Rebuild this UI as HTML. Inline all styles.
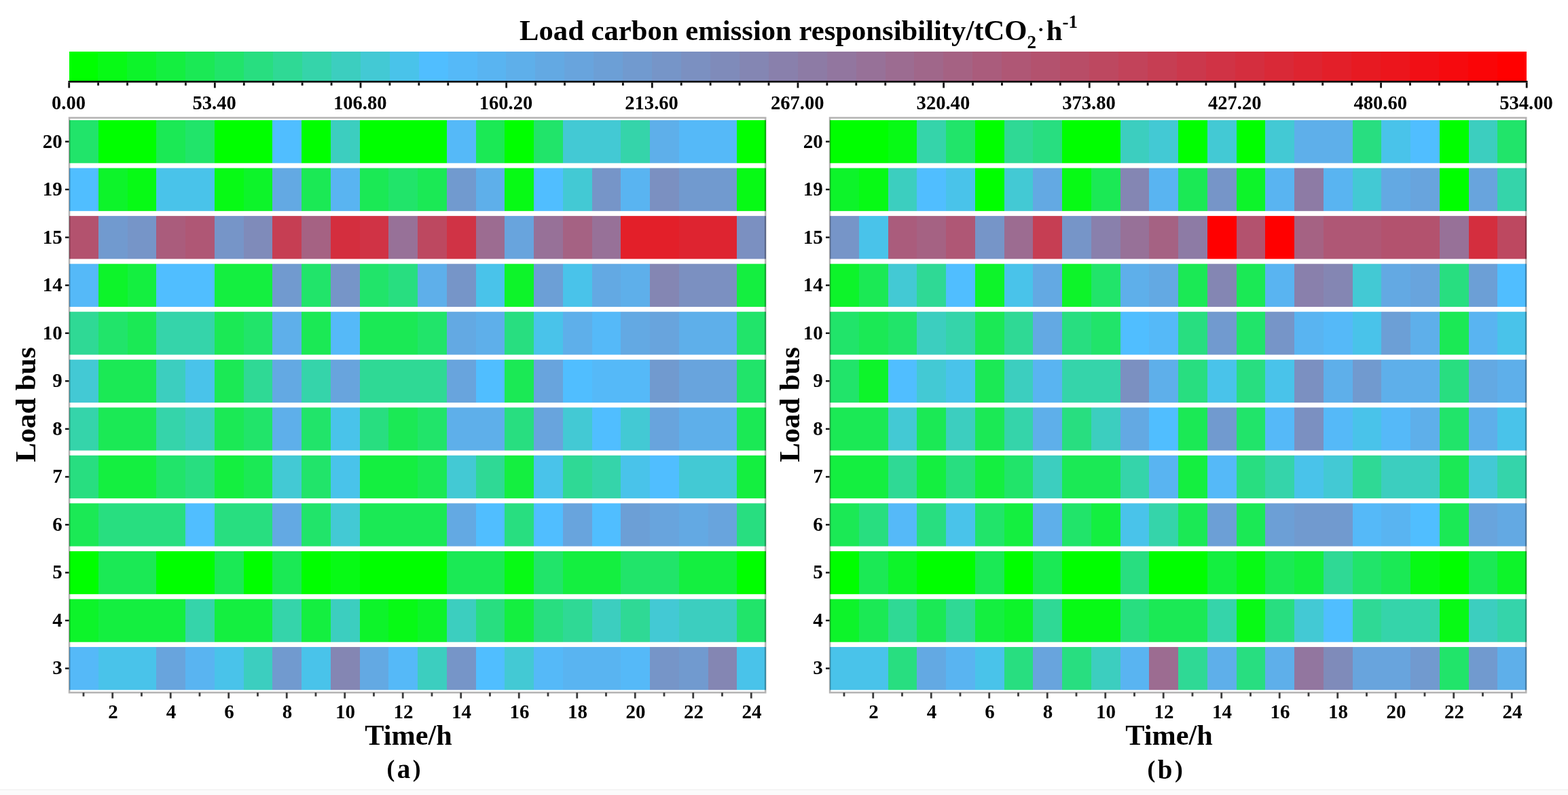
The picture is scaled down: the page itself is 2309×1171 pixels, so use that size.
<!DOCTYPE html>
<html lang="en"><head><meta charset="utf-8"><title>Load carbon emission responsibility</title>
<style>html,body{margin:0;padding:0;background:#fff}body{width:2309px;height:1171px;overflow:hidden}svg{display:block}text{font-family:"Liberation Serif","DejaVu Serif",serif;font-weight:bold;fill:#000}.x{font-size:29px;text-anchor:middle}.y{font-size:29px;text-anchor:end}.h{font-size:42.7px;text-anchor:middle}.c{font-size:28.6px;text-anchor:middle}</style></head><body>
<svg width="2309" height="1171" viewBox="0 0 2309 1171">
<rect width="2309" height="1171" fill="#fff"/>
<rect x="0" y="1162.5" width="2309" height="9" fill="#fbfbfb"/><rect x="0" y="1162.7" width="2309" height="1.2" fill="#f0f0f0"/>
<text x="765" y="58.5" style="font-size:42.7px">Load carbon emission responsibility/tCO<tspan dy="12.8" style="font-size:27px">2</tspan><tspan dy="-18.1" dx="1.6" style="font-size:30px">·</tspan><tspan dy="5.3" dx="3">h</tspan><tspan dy="-17.7" style="font-size:27px">-1</tspan></text>
<g shape-rendering="crispEdges">
<rect x="101.50" y="75.5" width="43.43" height="44.0" fill="#00ff00"/>
<rect x="144.43" y="75.5" width="43.43" height="44.0" fill="#07fa15"/>
<rect x="187.36" y="75.5" width="43.43" height="44.0" fill="#0df42a"/>
<rect x="230.29" y="75.5" width="43.43" height="44.0" fill="#14ef40"/>
<rect x="273.22" y="75.5" width="43.43" height="44.0" fill="#1be955"/>
<rect x="316.15" y="75.5" width="43.43" height="44.0" fill="#21e46a"/>
<rect x="359.08" y="75.5" width="43.43" height="44.0" fill="#28de80"/>
<rect x="402.01" y="75.5" width="43.43" height="44.0" fill="#2fd995"/>
<rect x="444.94" y="75.5" width="43.43" height="44.0" fill="#35d4aa"/>
<rect x="487.87" y="75.5" width="43.43" height="44.0" fill="#3ccebf"/>
<rect x="530.80" y="75.5" width="43.43" height="44.0" fill="#43c9d4"/>
<rect x="573.73" y="75.5" width="43.43" height="44.0" fill="#49c3ea"/>
<rect x="616.66" y="75.5" width="43.43" height="44.0" fill="#50beff"/>
<rect x="659.59" y="75.5" width="43.43" height="44.0" fill="#55b9f8"/>
<rect x="702.52" y="75.5" width="43.43" height="44.0" fill="#59b4f1"/>
<rect x="745.45" y="75.5" width="43.43" height="44.0" fill="#5eafea"/>
<rect x="788.38" y="75.5" width="43.43" height="44.0" fill="#63a9e3"/>
<rect x="831.31" y="75.5" width="43.43" height="44.0" fill="#68a4dd"/>
<rect x="874.24" y="75.5" width="43.43" height="44.0" fill="#6c9fd6"/>
<rect x="917.17" y="75.5" width="43.43" height="44.0" fill="#719acf"/>
<rect x="960.10" y="75.5" width="43.43" height="44.0" fill="#7695c8"/>
<rect x="1003.03" y="75.5" width="43.43" height="44.0" fill="#7b90c1"/>
<rect x="1045.96" y="75.5" width="43.43" height="44.0" fill="#7f8bba"/>
<rect x="1088.89" y="75.5" width="43.43" height="44.0" fill="#8486b3"/>
<rect x="1131.82" y="75.5" width="43.43" height="44.0" fill="#8980ac"/>
<rect x="1174.75" y="75.5" width="43.43" height="44.0" fill="#8d7ba5"/>
<rect x="1217.68" y="75.5" width="43.43" height="44.0" fill="#92769f"/>
<rect x="1260.61" y="75.5" width="43.43" height="44.0" fill="#977198"/>
<rect x="1303.54" y="75.5" width="43.43" height="44.0" fill="#9c6c91"/>
<rect x="1346.47" y="75.5" width="43.43" height="44.0" fill="#a0678a"/>
<rect x="1389.40" y="75.5" width="43.43" height="44.0" fill="#a56283"/>
<rect x="1432.33" y="75.5" width="43.43" height="44.0" fill="#aa5c7c"/>
<rect x="1475.26" y="75.5" width="43.43" height="44.0" fill="#af5775"/>
<rect x="1518.19" y="75.5" width="43.43" height="44.0" fill="#b3526e"/>
<rect x="1561.12" y="75.5" width="43.43" height="44.0" fill="#b84d67"/>
<rect x="1604.05" y="75.5" width="43.43" height="44.0" fill="#bd4860"/>
<rect x="1646.98" y="75.5" width="43.43" height="44.0" fill="#c2435a"/>
<rect x="1689.91" y="75.5" width="43.43" height="44.0" fill="#c63e53"/>
<rect x="1732.84" y="75.5" width="43.43" height="44.0" fill="#cb384c"/>
<rect x="1775.77" y="75.5" width="43.43" height="44.0" fill="#d03345"/>
<rect x="1818.70" y="75.5" width="43.43" height="44.0" fill="#d42e3e"/>
<rect x="1861.63" y="75.5" width="43.43" height="44.0" fill="#d92937"/>
<rect x="1904.56" y="75.5" width="43.43" height="44.0" fill="#de2430"/>
<rect x="1947.49" y="75.5" width="43.43" height="44.0" fill="#e31f29"/>
<rect x="1990.42" y="75.5" width="43.43" height="44.0" fill="#e71a22"/>
<rect x="2033.35" y="75.5" width="43.43" height="44.0" fill="#ec151c"/>
<rect x="2076.28" y="75.5" width="43.43" height="44.0" fill="#f10f15"/>
<rect x="2119.21" y="75.5" width="43.43" height="44.0" fill="#f60a0e"/>
<rect x="2162.14" y="75.5" width="43.43" height="44.0" fill="#fa0507"/>
<rect x="2205.07" y="75.5" width="42.93" height="44.0" fill="#ff0000"/>
</g>
<rect x="100.5" y="119.0" width="2149.0" height="2.6" fill="#000"/>
<rect x="100.30" y="121.5" width="2.8" height="8.0" fill="#111"/>
<rect x="143.23" y="121.5" width="2.8" height="4.5" fill="#111"/>
<rect x="186.16" y="121.5" width="2.8" height="4.5" fill="#111"/>
<rect x="229.09" y="121.5" width="2.8" height="4.5" fill="#111"/>
<rect x="272.02" y="121.5" width="2.8" height="4.5" fill="#111"/>
<rect x="314.95" y="121.5" width="2.8" height="8.0" fill="#111"/>
<rect x="357.88" y="121.5" width="2.8" height="4.5" fill="#111"/>
<rect x="400.81" y="121.5" width="2.8" height="4.5" fill="#111"/>
<rect x="443.74" y="121.5" width="2.8" height="4.5" fill="#111"/>
<rect x="486.67" y="121.5" width="2.8" height="4.5" fill="#111"/>
<rect x="529.60" y="121.5" width="2.8" height="8.0" fill="#111"/>
<rect x="572.53" y="121.5" width="2.8" height="4.5" fill="#111"/>
<rect x="615.46" y="121.5" width="2.8" height="4.5" fill="#111"/>
<rect x="658.39" y="121.5" width="2.8" height="4.5" fill="#111"/>
<rect x="701.32" y="121.5" width="2.8" height="4.5" fill="#111"/>
<rect x="744.25" y="121.5" width="2.8" height="8.0" fill="#111"/>
<rect x="787.18" y="121.5" width="2.8" height="4.5" fill="#111"/>
<rect x="830.11" y="121.5" width="2.8" height="4.5" fill="#111"/>
<rect x="873.04" y="121.5" width="2.8" height="4.5" fill="#111"/>
<rect x="915.97" y="121.5" width="2.8" height="4.5" fill="#111"/>
<rect x="958.90" y="121.5" width="2.8" height="8.0" fill="#111"/>
<rect x="1001.83" y="121.5" width="2.8" height="4.5" fill="#111"/>
<rect x="1044.76" y="121.5" width="2.8" height="4.5" fill="#111"/>
<rect x="1087.69" y="121.5" width="2.8" height="4.5" fill="#111"/>
<rect x="1130.62" y="121.5" width="2.8" height="4.5" fill="#111"/>
<rect x="1173.55" y="121.5" width="2.8" height="8.0" fill="#111"/>
<rect x="1216.48" y="121.5" width="2.8" height="4.5" fill="#111"/>
<rect x="1259.41" y="121.5" width="2.8" height="4.5" fill="#111"/>
<rect x="1302.34" y="121.5" width="2.8" height="4.5" fill="#111"/>
<rect x="1345.27" y="121.5" width="2.8" height="4.5" fill="#111"/>
<rect x="1388.20" y="121.5" width="2.8" height="8.0" fill="#111"/>
<rect x="1431.13" y="121.5" width="2.8" height="4.5" fill="#111"/>
<rect x="1474.06" y="121.5" width="2.8" height="4.5" fill="#111"/>
<rect x="1516.99" y="121.5" width="2.8" height="4.5" fill="#111"/>
<rect x="1559.92" y="121.5" width="2.8" height="4.5" fill="#111"/>
<rect x="1602.85" y="121.5" width="2.8" height="8.0" fill="#111"/>
<rect x="1645.78" y="121.5" width="2.8" height="4.5" fill="#111"/>
<rect x="1688.71" y="121.5" width="2.8" height="4.5" fill="#111"/>
<rect x="1731.64" y="121.5" width="2.8" height="4.5" fill="#111"/>
<rect x="1774.57" y="121.5" width="2.8" height="4.5" fill="#111"/>
<rect x="1817.50" y="121.5" width="2.8" height="8.0" fill="#111"/>
<rect x="1860.43" y="121.5" width="2.8" height="4.5" fill="#111"/>
<rect x="1903.36" y="121.5" width="2.8" height="4.5" fill="#111"/>
<rect x="1946.29" y="121.5" width="2.8" height="4.5" fill="#111"/>
<rect x="1989.22" y="121.5" width="2.8" height="4.5" fill="#111"/>
<rect x="2032.15" y="121.5" width="2.8" height="8.0" fill="#111"/>
<rect x="2075.08" y="121.5" width="2.8" height="4.5" fill="#111"/>
<rect x="2118.01" y="121.5" width="2.8" height="4.5" fill="#111"/>
<rect x="2160.94" y="121.5" width="2.8" height="4.5" fill="#111"/>
<rect x="2203.87" y="121.5" width="2.8" height="4.5" fill="#111"/>
<rect x="2246.80" y="121.5" width="2.8" height="8.0" fill="#111"/>
<text class="c" x="101.0" y="160.9">0.00</text>
<text class="c" x="315.6" y="160.9">53.40</text>
<text class="c" x="530.3" y="160.9">106.80</text>
<text class="c" x="745.0" y="160.9">160.20</text>
<text class="c" x="959.6" y="160.9">213.60</text>
<text class="c" x="1174.2" y="160.9">267.00</text>
<text class="c" x="1388.9" y="160.9">320.40</text>
<text class="c" x="1603.5" y="160.9">373.80</text>
<text class="c" x="1818.2" y="160.9">427.20</text>
<text class="c" x="2032.8" y="160.9">480.60</text>
<text class="c" x="2247.5" y="160.9">534.00</text>
<g shape-rendering="crispEdges">
<rect x="102.00" y="172.90" width="43.25" height="71.54" fill="#21e46a"/>
<rect x="144.75" y="172.90" width="86.00" height="71.54" fill="#00ff00"/>
<rect x="230.25" y="172.90" width="43.25" height="71.54" fill="#1be955"/>
<rect x="273.00" y="172.90" width="43.25" height="71.54" fill="#21e46a"/>
<rect x="315.75" y="172.90" width="86.00" height="71.54" fill="#00ff00"/>
<rect x="401.25" y="172.90" width="43.25" height="71.54" fill="#50beff"/>
<rect x="444.00" y="172.90" width="43.25" height="71.54" fill="#00ff00"/>
<rect x="486.75" y="172.90" width="43.25" height="71.54" fill="#3ccebf"/>
<rect x="529.50" y="172.90" width="128.75" height="71.54" fill="#00ff00"/>
<rect x="657.75" y="172.90" width="43.25" height="71.54" fill="#55b9f8"/>
<rect x="700.50" y="172.90" width="43.25" height="71.54" fill="#1be955"/>
<rect x="743.25" y="172.90" width="43.25" height="71.54" fill="#00ff00"/>
<rect x="786.00" y="172.90" width="43.25" height="71.54" fill="#21e46a"/>
<rect x="828.75" y="172.90" width="86.00" height="71.54" fill="#43c9d4"/>
<rect x="914.25" y="172.90" width="43.25" height="71.54" fill="#35d4aa"/>
<rect x="957.00" y="172.90" width="43.25" height="71.54" fill="#5eafea"/>
<rect x="999.75" y="172.90" width="86.00" height="71.54" fill="#55b9f8"/>
<rect x="1085.25" y="172.90" width="42.75" height="71.54" fill="#00ff00"/>
<rect x="102.00" y="243.44" width="43.25" height="71.54" fill="#50beff"/>
<rect x="144.75" y="243.44" width="43.25" height="71.54" fill="#0df42a"/>
<rect x="187.50" y="243.44" width="43.25" height="71.54" fill="#07fa15"/>
<rect x="230.25" y="243.44" width="86.00" height="71.54" fill="#49c3ea"/>
<rect x="315.75" y="243.44" width="43.25" height="71.54" fill="#07fa15"/>
<rect x="358.50" y="243.44" width="43.25" height="71.54" fill="#0df42a"/>
<rect x="401.25" y="243.44" width="43.25" height="71.54" fill="#63a9e3"/>
<rect x="444.00" y="243.44" width="43.25" height="71.54" fill="#1be955"/>
<rect x="486.75" y="243.44" width="43.25" height="71.54" fill="#59b4f1"/>
<rect x="529.50" y="243.44" width="43.25" height="71.54" fill="#1be955"/>
<rect x="572.25" y="243.44" width="43.25" height="71.54" fill="#21e46a"/>
<rect x="615.00" y="243.44" width="43.25" height="71.54" fill="#1be955"/>
<rect x="657.75" y="243.44" width="43.25" height="71.54" fill="#719acf"/>
<rect x="700.50" y="243.44" width="43.25" height="71.54" fill="#5eafea"/>
<rect x="743.25" y="243.44" width="43.25" height="71.54" fill="#07fa15"/>
<rect x="786.00" y="243.44" width="43.25" height="71.54" fill="#50beff"/>
<rect x="828.75" y="243.44" width="43.25" height="71.54" fill="#43c9d4"/>
<rect x="871.50" y="243.44" width="43.25" height="71.54" fill="#7695c8"/>
<rect x="914.25" y="243.44" width="43.25" height="71.54" fill="#59b4f1"/>
<rect x="957.00" y="243.44" width="43.25" height="71.54" fill="#7b90c1"/>
<rect x="999.75" y="243.44" width="86.00" height="71.54" fill="#719acf"/>
<rect x="1085.25" y="243.44" width="42.75" height="71.54" fill="#07fa15"/>
<rect x="102.00" y="313.98" width="43.25" height="71.54" fill="#b3526e"/>
<rect x="144.75" y="313.98" width="43.25" height="71.54" fill="#719acf"/>
<rect x="187.50" y="313.98" width="43.25" height="71.54" fill="#7695c8"/>
<rect x="230.25" y="313.98" width="43.25" height="71.54" fill="#aa5c7c"/>
<rect x="273.00" y="313.98" width="43.25" height="71.54" fill="#af5775"/>
<rect x="315.75" y="313.98" width="43.25" height="71.54" fill="#7695c8"/>
<rect x="358.50" y="313.98" width="43.25" height="71.54" fill="#7f8bba"/>
<rect x="401.25" y="313.98" width="43.25" height="71.54" fill="#c63e53"/>
<rect x="444.00" y="313.98" width="43.25" height="71.54" fill="#a56283"/>
<rect x="486.75" y="313.98" width="43.25" height="71.54" fill="#d42e3e"/>
<rect x="529.50" y="313.98" width="43.25" height="71.54" fill="#d03345"/>
<rect x="572.25" y="313.98" width="43.25" height="71.54" fill="#977198"/>
<rect x="615.00" y="313.98" width="43.25" height="71.54" fill="#bd4860"/>
<rect x="657.75" y="313.98" width="43.25" height="71.54" fill="#d03345"/>
<rect x="700.50" y="313.98" width="43.25" height="71.54" fill="#9c6c91"/>
<rect x="743.25" y="313.98" width="43.25" height="71.54" fill="#68a4dd"/>
<rect x="786.00" y="313.98" width="43.25" height="71.54" fill="#977198"/>
<rect x="828.75" y="313.98" width="43.25" height="71.54" fill="#a56283"/>
<rect x="871.50" y="313.98" width="43.25" height="71.54" fill="#977198"/>
<rect x="914.25" y="313.98" width="86.00" height="71.54" fill="#e31f29"/>
<rect x="999.75" y="313.98" width="86.00" height="71.54" fill="#de2430"/>
<rect x="1085.25" y="313.98" width="42.75" height="71.54" fill="#7b90c1"/>
<rect x="102.00" y="384.52" width="43.25" height="71.54" fill="#55b9f8"/>
<rect x="144.75" y="384.52" width="43.25" height="71.54" fill="#0df42a"/>
<rect x="187.50" y="384.52" width="43.25" height="71.54" fill="#14ef40"/>
<rect x="230.25" y="384.52" width="86.00" height="71.54" fill="#50beff"/>
<rect x="315.75" y="384.52" width="86.00" height="71.54" fill="#14ef40"/>
<rect x="401.25" y="384.52" width="43.25" height="71.54" fill="#719acf"/>
<rect x="444.00" y="384.52" width="43.25" height="71.54" fill="#21e46a"/>
<rect x="486.75" y="384.52" width="43.25" height="71.54" fill="#7695c8"/>
<rect x="529.50" y="384.52" width="43.25" height="71.54" fill="#21e46a"/>
<rect x="572.25" y="384.52" width="43.25" height="71.54" fill="#28de80"/>
<rect x="615.00" y="384.52" width="43.25" height="71.54" fill="#5eafea"/>
<rect x="657.75" y="384.52" width="43.25" height="71.54" fill="#7695c8"/>
<rect x="700.50" y="384.52" width="43.25" height="71.54" fill="#49c3ea"/>
<rect x="743.25" y="384.52" width="43.25" height="71.54" fill="#0df42a"/>
<rect x="786.00" y="384.52" width="43.25" height="71.54" fill="#6c9fd6"/>
<rect x="828.75" y="384.52" width="43.25" height="71.54" fill="#49c3ea"/>
<rect x="871.50" y="384.52" width="43.25" height="71.54" fill="#63a9e3"/>
<rect x="914.25" y="384.52" width="43.25" height="71.54" fill="#5eafea"/>
<rect x="957.00" y="384.52" width="43.25" height="71.54" fill="#8486b3"/>
<rect x="999.75" y="384.52" width="86.00" height="71.54" fill="#7b90c1"/>
<rect x="1085.25" y="384.52" width="42.75" height="71.54" fill="#14ef40"/>
<rect x="102.00" y="455.07" width="43.25" height="71.54" fill="#2fd995"/>
<rect x="144.75" y="455.07" width="43.25" height="71.54" fill="#21e46a"/>
<rect x="187.50" y="455.07" width="43.25" height="71.54" fill="#1be955"/>
<rect x="230.25" y="455.07" width="86.00" height="71.54" fill="#35d4aa"/>
<rect x="315.75" y="455.07" width="43.25" height="71.54" fill="#1be955"/>
<rect x="358.50" y="455.07" width="43.25" height="71.54" fill="#21e46a"/>
<rect x="401.25" y="455.07" width="43.25" height="71.54" fill="#5eafea"/>
<rect x="444.00" y="455.07" width="43.25" height="71.54" fill="#1be955"/>
<rect x="486.75" y="455.07" width="43.25" height="71.54" fill="#55b9f8"/>
<rect x="529.50" y="455.07" width="86.00" height="71.54" fill="#1be955"/>
<rect x="615.00" y="455.07" width="43.25" height="71.54" fill="#21e46a"/>
<rect x="657.75" y="455.07" width="43.25" height="71.54" fill="#63a9e3"/>
<rect x="700.50" y="455.07" width="43.25" height="71.54" fill="#5eafea"/>
<rect x="743.25" y="455.07" width="43.25" height="71.54" fill="#28de80"/>
<rect x="786.00" y="455.07" width="43.25" height="71.54" fill="#49c3ea"/>
<rect x="828.75" y="455.07" width="43.25" height="71.54" fill="#5eafea"/>
<rect x="871.50" y="455.07" width="43.25" height="71.54" fill="#55b9f8"/>
<rect x="914.25" y="455.07" width="43.25" height="71.54" fill="#63a9e3"/>
<rect x="957.00" y="455.07" width="43.25" height="71.54" fill="#68a4dd"/>
<rect x="999.75" y="455.07" width="86.00" height="71.54" fill="#5eafea"/>
<rect x="1085.25" y="455.07" width="42.75" height="71.54" fill="#21e46a"/>
<rect x="102.00" y="525.61" width="43.25" height="71.54" fill="#43c9d4"/>
<rect x="144.75" y="525.61" width="86.00" height="71.54" fill="#1be955"/>
<rect x="230.25" y="525.61" width="43.25" height="71.54" fill="#3ccebf"/>
<rect x="273.00" y="525.61" width="43.25" height="71.54" fill="#49c3ea"/>
<rect x="315.75" y="525.61" width="43.25" height="71.54" fill="#1be955"/>
<rect x="358.50" y="525.61" width="43.25" height="71.54" fill="#2fd995"/>
<rect x="401.25" y="525.61" width="43.25" height="71.54" fill="#63a9e3"/>
<rect x="444.00" y="525.61" width="43.25" height="71.54" fill="#35d4aa"/>
<rect x="486.75" y="525.61" width="43.25" height="71.54" fill="#68a4dd"/>
<rect x="529.50" y="525.61" width="128.75" height="71.54" fill="#2fd995"/>
<rect x="657.75" y="525.61" width="43.25" height="71.54" fill="#68a4dd"/>
<rect x="700.50" y="525.61" width="43.25" height="71.54" fill="#50beff"/>
<rect x="743.25" y="525.61" width="43.25" height="71.54" fill="#1be955"/>
<rect x="786.00" y="525.61" width="43.25" height="71.54" fill="#68a4dd"/>
<rect x="828.75" y="525.61" width="43.25" height="71.54" fill="#50beff"/>
<rect x="871.50" y="525.61" width="86.00" height="71.54" fill="#55b9f8"/>
<rect x="957.00" y="525.61" width="43.25" height="71.54" fill="#719acf"/>
<rect x="999.75" y="525.61" width="86.00" height="71.54" fill="#68a4dd"/>
<rect x="1085.25" y="525.61" width="42.75" height="71.54" fill="#21e46a"/>
<rect x="102.00" y="596.15" width="43.25" height="71.54" fill="#35d4aa"/>
<rect x="144.75" y="596.15" width="86.00" height="71.54" fill="#1be955"/>
<rect x="230.25" y="596.15" width="43.25" height="71.54" fill="#35d4aa"/>
<rect x="273.00" y="596.15" width="43.25" height="71.54" fill="#3ccebf"/>
<rect x="315.75" y="596.15" width="43.25" height="71.54" fill="#1be955"/>
<rect x="358.50" y="596.15" width="43.25" height="71.54" fill="#21e46a"/>
<rect x="401.25" y="596.15" width="43.25" height="71.54" fill="#5eafea"/>
<rect x="444.00" y="596.15" width="43.25" height="71.54" fill="#21e46a"/>
<rect x="486.75" y="596.15" width="43.25" height="71.54" fill="#49c3ea"/>
<rect x="529.50" y="596.15" width="43.25" height="71.54" fill="#28de80"/>
<rect x="572.25" y="596.15" width="43.25" height="71.54" fill="#1be955"/>
<rect x="615.00" y="596.15" width="43.25" height="71.54" fill="#21e46a"/>
<rect x="657.75" y="596.15" width="86.00" height="71.54" fill="#5eafea"/>
<rect x="743.25" y="596.15" width="43.25" height="71.54" fill="#28de80"/>
<rect x="786.00" y="596.15" width="43.25" height="71.54" fill="#68a4dd"/>
<rect x="828.75" y="596.15" width="43.25" height="71.54" fill="#43c9d4"/>
<rect x="871.50" y="596.15" width="43.25" height="71.54" fill="#50beff"/>
<rect x="914.25" y="596.15" width="43.25" height="71.54" fill="#43c9d4"/>
<rect x="957.00" y="596.15" width="43.25" height="71.54" fill="#68a4dd"/>
<rect x="999.75" y="596.15" width="86.00" height="71.54" fill="#5eafea"/>
<rect x="1085.25" y="596.15" width="42.75" height="71.54" fill="#1be955"/>
<rect x="102.00" y="666.69" width="43.25" height="71.54" fill="#28de80"/>
<rect x="144.75" y="666.69" width="86.00" height="71.54" fill="#14ef40"/>
<rect x="230.25" y="666.69" width="43.25" height="71.54" fill="#21e46a"/>
<rect x="273.00" y="666.69" width="43.25" height="71.54" fill="#28de80"/>
<rect x="315.75" y="666.69" width="43.25" height="71.54" fill="#14ef40"/>
<rect x="358.50" y="666.69" width="43.25" height="71.54" fill="#1be955"/>
<rect x="401.25" y="666.69" width="43.25" height="71.54" fill="#43c9d4"/>
<rect x="444.00" y="666.69" width="43.25" height="71.54" fill="#21e46a"/>
<rect x="486.75" y="666.69" width="43.25" height="71.54" fill="#49c3ea"/>
<rect x="529.50" y="666.69" width="86.00" height="71.54" fill="#14ef40"/>
<rect x="615.00" y="666.69" width="43.25" height="71.54" fill="#1be955"/>
<rect x="657.75" y="666.69" width="43.25" height="71.54" fill="#43c9d4"/>
<rect x="700.50" y="666.69" width="43.25" height="71.54" fill="#2fd995"/>
<rect x="743.25" y="666.69" width="43.25" height="71.54" fill="#14ef40"/>
<rect x="786.00" y="666.69" width="43.25" height="71.54" fill="#49c3ea"/>
<rect x="828.75" y="666.69" width="43.25" height="71.54" fill="#2fd995"/>
<rect x="871.50" y="666.69" width="43.25" height="71.54" fill="#35d4aa"/>
<rect x="914.25" y="666.69" width="43.25" height="71.54" fill="#49c3ea"/>
<rect x="957.00" y="666.69" width="43.25" height="71.54" fill="#50beff"/>
<rect x="999.75" y="666.69" width="86.00" height="71.54" fill="#43c9d4"/>
<rect x="1085.25" y="666.69" width="42.75" height="71.54" fill="#14ef40"/>
<rect x="102.00" y="737.23" width="43.25" height="71.54" fill="#1be955"/>
<rect x="144.75" y="737.23" width="128.75" height="71.54" fill="#28de80"/>
<rect x="273.00" y="737.23" width="43.25" height="71.54" fill="#50beff"/>
<rect x="315.75" y="737.23" width="86.00" height="71.54" fill="#28de80"/>
<rect x="401.25" y="737.23" width="43.25" height="71.54" fill="#63a9e3"/>
<rect x="444.00" y="737.23" width="43.25" height="71.54" fill="#21e46a"/>
<rect x="486.75" y="737.23" width="43.25" height="71.54" fill="#43c9d4"/>
<rect x="529.50" y="737.23" width="128.75" height="71.54" fill="#1be955"/>
<rect x="657.75" y="737.23" width="43.25" height="71.54" fill="#63a9e3"/>
<rect x="700.50" y="737.23" width="43.25" height="71.54" fill="#50beff"/>
<rect x="743.25" y="737.23" width="43.25" height="71.54" fill="#28de80"/>
<rect x="786.00" y="737.23" width="43.25" height="71.54" fill="#50beff"/>
<rect x="828.75" y="737.23" width="43.25" height="71.54" fill="#68a4dd"/>
<rect x="871.50" y="737.23" width="43.25" height="71.54" fill="#50beff"/>
<rect x="914.25" y="737.23" width="43.25" height="71.54" fill="#6c9fd6"/>
<rect x="957.00" y="737.23" width="43.25" height="71.54" fill="#68a4dd"/>
<rect x="999.75" y="737.23" width="43.25" height="71.54" fill="#63a9e3"/>
<rect x="1042.50" y="737.23" width="43.25" height="71.54" fill="#68a4dd"/>
<rect x="1085.25" y="737.23" width="42.75" height="71.54" fill="#28de80"/>
<rect x="102.00" y="807.77" width="43.25" height="71.54" fill="#00ff00"/>
<rect x="144.75" y="807.77" width="86.00" height="71.54" fill="#1be955"/>
<rect x="230.25" y="807.77" width="86.00" height="71.54" fill="#00ff00"/>
<rect x="315.75" y="807.77" width="43.25" height="71.54" fill="#1be955"/>
<rect x="358.50" y="807.77" width="43.25" height="71.54" fill="#00ff00"/>
<rect x="401.25" y="807.77" width="43.25" height="71.54" fill="#1be955"/>
<rect x="444.00" y="807.77" width="43.25" height="71.54" fill="#00ff00"/>
<rect x="486.75" y="807.77" width="43.25" height="71.54" fill="#07fa15"/>
<rect x="529.50" y="807.77" width="128.75" height="71.54" fill="#00ff00"/>
<rect x="657.75" y="807.77" width="86.00" height="71.54" fill="#1be955"/>
<rect x="743.25" y="807.77" width="43.25" height="71.54" fill="#07fa15"/>
<rect x="786.00" y="807.77" width="43.25" height="71.54" fill="#21e46a"/>
<rect x="828.75" y="807.77" width="86.00" height="71.54" fill="#14ef40"/>
<rect x="914.25" y="807.77" width="86.00" height="71.54" fill="#21e46a"/>
<rect x="999.75" y="807.77" width="86.00" height="71.54" fill="#14ef40"/>
<rect x="1085.25" y="807.77" width="42.75" height="71.54" fill="#00ff00"/>
<rect x="102.00" y="878.32" width="43.25" height="71.54" fill="#0df42a"/>
<rect x="144.75" y="878.32" width="128.75" height="71.54" fill="#14ef40"/>
<rect x="273.00" y="878.32" width="43.25" height="71.54" fill="#35d4aa"/>
<rect x="315.75" y="878.32" width="86.00" height="71.54" fill="#14ef40"/>
<rect x="401.25" y="878.32" width="43.25" height="71.54" fill="#35d4aa"/>
<rect x="444.00" y="878.32" width="43.25" height="71.54" fill="#14ef40"/>
<rect x="486.75" y="878.32" width="43.25" height="71.54" fill="#3ccebf"/>
<rect x="529.50" y="878.32" width="43.25" height="71.54" fill="#0df42a"/>
<rect x="572.25" y="878.32" width="43.25" height="71.54" fill="#07fa15"/>
<rect x="615.00" y="878.32" width="43.25" height="71.54" fill="#0df42a"/>
<rect x="657.75" y="878.32" width="43.25" height="71.54" fill="#3ccebf"/>
<rect x="700.50" y="878.32" width="43.25" height="71.54" fill="#28de80"/>
<rect x="743.25" y="878.32" width="43.25" height="71.54" fill="#14ef40"/>
<rect x="786.00" y="878.32" width="43.25" height="71.54" fill="#28de80"/>
<rect x="828.75" y="878.32" width="43.25" height="71.54" fill="#2fd995"/>
<rect x="871.50" y="878.32" width="43.25" height="71.54" fill="#3ccebf"/>
<rect x="914.25" y="878.32" width="43.25" height="71.54" fill="#2fd995"/>
<rect x="957.00" y="878.32" width="43.25" height="71.54" fill="#43c9d4"/>
<rect x="999.75" y="878.32" width="86.00" height="71.54" fill="#3ccebf"/>
<rect x="1085.25" y="878.32" width="42.75" height="71.54" fill="#21e46a"/>
<rect x="102.00" y="948.86" width="43.25" height="71.54" fill="#55b9f8"/>
<rect x="144.75" y="948.86" width="86.00" height="71.54" fill="#49c3ea"/>
<rect x="230.25" y="948.86" width="43.25" height="71.54" fill="#68a4dd"/>
<rect x="273.00" y="948.86" width="43.25" height="71.54" fill="#59b4f1"/>
<rect x="315.75" y="948.86" width="43.25" height="71.54" fill="#49c3ea"/>
<rect x="358.50" y="948.86" width="43.25" height="71.54" fill="#3ccebf"/>
<rect x="401.25" y="948.86" width="43.25" height="71.54" fill="#719acf"/>
<rect x="444.00" y="948.86" width="43.25" height="71.54" fill="#49c3ea"/>
<rect x="486.75" y="948.86" width="43.25" height="71.54" fill="#8486b3"/>
<rect x="529.50" y="948.86" width="43.25" height="71.54" fill="#63a9e3"/>
<rect x="572.25" y="948.86" width="43.25" height="71.54" fill="#55b9f8"/>
<rect x="615.00" y="948.86" width="43.25" height="71.54" fill="#3ccebf"/>
<rect x="657.75" y="948.86" width="43.25" height="71.54" fill="#7695c8"/>
<rect x="700.50" y="948.86" width="43.25" height="71.54" fill="#50beff"/>
<rect x="743.25" y="948.86" width="43.25" height="71.54" fill="#43c9d4"/>
<rect x="786.00" y="948.86" width="43.25" height="71.54" fill="#55b9f8"/>
<rect x="828.75" y="948.86" width="86.00" height="71.54" fill="#59b4f1"/>
<rect x="914.25" y="948.86" width="43.25" height="71.54" fill="#55b9f8"/>
<rect x="957.00" y="948.86" width="43.25" height="71.54" fill="#7695c8"/>
<rect x="999.75" y="948.86" width="43.25" height="71.54" fill="#719acf"/>
<rect x="1042.50" y="948.86" width="43.25" height="71.54" fill="#8486b3"/>
<rect x="1085.25" y="948.86" width="42.75" height="71.54" fill="#49c3ea"/>
</g>
<rect x="101.0" y="172.40" width="1028.0" height="4.62" fill="#fff"/>
<rect x="101.0" y="240.32" width="1028.0" height="7.24" fill="#fff"/>
<rect x="101.0" y="310.86" width="1028.0" height="7.24" fill="#fff"/>
<rect x="101.0" y="381.40" width="1028.0" height="7.24" fill="#fff"/>
<rect x="101.0" y="451.95" width="1028.0" height="7.24" fill="#fff"/>
<rect x="101.0" y="522.49" width="1028.0" height="7.24" fill="#fff"/>
<rect x="101.0" y="593.03" width="1028.0" height="7.24" fill="#fff"/>
<rect x="101.0" y="663.57" width="1028.0" height="7.24" fill="#fff"/>
<rect x="101.0" y="734.11" width="1028.0" height="7.24" fill="#fff"/>
<rect x="101.0" y="804.65" width="1028.0" height="7.24" fill="#fff"/>
<rect x="101.0" y="875.20" width="1028.0" height="7.24" fill="#fff"/>
<rect x="101.0" y="945.74" width="1028.0" height="7.24" fill="#fff"/>
<rect x="101.0" y="1016.28" width="1028.0" height="4.62" fill="#fff"/>
<rect x="102.1" y="173.5" width="1025.1" height="846.6" fill="none" stroke="#0a0508" stroke-opacity="0.3" stroke-width="2.6"/>
<rect x="96.0" y="207.37" width="5.6" height="2.4" fill="#111"/>
<text class="y" x="91.7" y="217.5">20</text>
<rect x="96.0" y="277.91" width="5.6" height="2.4" fill="#111"/>
<text class="y" x="91.7" y="288.0">19</text>
<rect x="96.0" y="348.45" width="5.6" height="2.4" fill="#111"/>
<text class="y" x="91.7" y="358.6">15</text>
<rect x="96.0" y="419.00" width="5.6" height="2.4" fill="#111"/>
<text class="y" x="91.7" y="429.1">14</text>
<rect x="96.0" y="489.54" width="5.6" height="2.4" fill="#111"/>
<text class="y" x="91.7" y="499.6">10</text>
<rect x="96.0" y="560.08" width="5.6" height="2.4" fill="#111"/>
<text class="y" x="91.7" y="570.2">9</text>
<rect x="96.0" y="630.62" width="5.6" height="2.4" fill="#111"/>
<text class="y" x="91.7" y="640.7">8</text>
<rect x="96.0" y="701.16" width="5.6" height="2.4" fill="#111"/>
<text class="y" x="91.7" y="711.3">7</text>
<rect x="96.0" y="771.70" width="5.6" height="2.4" fill="#111"/>
<text class="y" x="91.7" y="781.8">6</text>
<rect x="96.0" y="842.25" width="5.6" height="2.4" fill="#111"/>
<text class="y" x="91.7" y="852.3">5</text>
<rect x="96.0" y="912.79" width="5.6" height="2.4" fill="#111"/>
<text class="y" x="91.7" y="922.9">4</text>
<rect x="96.0" y="983.33" width="5.6" height="2.4" fill="#111"/>
<text class="y" x="91.7" y="993.4">3</text>
<rect x="121.58" y="1020.2" width="2.8" height="5.5" fill="#3a3a3a"/>
<rect x="164.32" y="1020.2" width="2.8" height="8.5" fill="#3a3a3a"/>
<text class="x" x="166.6" y="1058">2</text>
<rect x="207.07" y="1020.2" width="2.8" height="5.5" fill="#3a3a3a"/>
<rect x="249.82" y="1020.2" width="2.8" height="8.5" fill="#3a3a3a"/>
<text class="x" x="252.1" y="1058">4</text>
<rect x="292.57" y="1020.2" width="2.8" height="5.5" fill="#3a3a3a"/>
<rect x="335.32" y="1020.2" width="2.8" height="8.5" fill="#3a3a3a"/>
<text class="x" x="337.6" y="1058">6</text>
<rect x="378.07" y="1020.2" width="2.8" height="5.5" fill="#3a3a3a"/>
<rect x="420.82" y="1020.2" width="2.8" height="8.5" fill="#3a3a3a"/>
<text class="x" x="423.1" y="1058">8</text>
<rect x="463.57" y="1020.2" width="2.8" height="5.5" fill="#3a3a3a"/>
<rect x="506.32" y="1020.2" width="2.8" height="8.5" fill="#3a3a3a"/>
<text class="x" x="508.6" y="1058">10</text>
<rect x="549.08" y="1020.2" width="2.8" height="5.5" fill="#3a3a3a"/>
<rect x="591.83" y="1020.2" width="2.8" height="8.5" fill="#3a3a3a"/>
<text class="x" x="594.1" y="1058">12</text>
<rect x="634.58" y="1020.2" width="2.8" height="5.5" fill="#3a3a3a"/>
<rect x="677.33" y="1020.2" width="2.8" height="8.5" fill="#3a3a3a"/>
<text class="x" x="679.6" y="1058">14</text>
<rect x="720.08" y="1020.2" width="2.8" height="5.5" fill="#3a3a3a"/>
<rect x="762.83" y="1020.2" width="2.8" height="8.5" fill="#3a3a3a"/>
<text class="x" x="765.1" y="1058">16</text>
<rect x="805.58" y="1020.2" width="2.8" height="5.5" fill="#3a3a3a"/>
<rect x="848.33" y="1020.2" width="2.8" height="8.5" fill="#3a3a3a"/>
<text class="x" x="850.6" y="1058">18</text>
<rect x="891.08" y="1020.2" width="2.8" height="5.5" fill="#3a3a3a"/>
<rect x="933.83" y="1020.2" width="2.8" height="8.5" fill="#3a3a3a"/>
<text class="x" x="936.1" y="1058">20</text>
<rect x="976.58" y="1020.2" width="2.8" height="5.5" fill="#3a3a3a"/>
<rect x="1019.33" y="1020.2" width="2.8" height="8.5" fill="#3a3a3a"/>
<text class="x" x="1021.6" y="1058">22</text>
<rect x="1062.08" y="1020.2" width="2.8" height="5.5" fill="#3a3a3a"/>
<rect x="1104.83" y="1020.2" width="2.8" height="8.5" fill="#3a3a3a"/>
<text class="x" x="1107.1" y="1058">24</text>
<text class="h" x="601.6" y="1096.7" style="font-size:42.3px">Time/h</text>
<text class="h" x="596.2" y="1146.4" style="font-size:39px;letter-spacing:3.4px"><tspan dy="-2.3" style="font-size:35.5px">(</tspan><tspan dy="2.3">a</tspan><tspan dy="-2.3" style="font-size:35.5px">)</tspan></text>
<text class="h" transform="translate(51.5,596) rotate(-90)">Load bus</text>
<g shape-rendering="crispEdges">
<rect x="1222.00" y="172.90" width="86.00" height="71.54" fill="#00ff00"/>
<rect x="1307.50" y="172.90" width="43.25" height="71.54" fill="#07fa15"/>
<rect x="1350.25" y="172.90" width="43.25" height="71.54" fill="#35d4aa"/>
<rect x="1393.00" y="172.90" width="43.25" height="71.54" fill="#21e46a"/>
<rect x="1435.75" y="172.90" width="43.25" height="71.54" fill="#00ff00"/>
<rect x="1478.50" y="172.90" width="43.25" height="71.54" fill="#2fd995"/>
<rect x="1521.25" y="172.90" width="43.25" height="71.54" fill="#28de80"/>
<rect x="1564.00" y="172.90" width="86.00" height="71.54" fill="#00ff00"/>
<rect x="1649.50" y="172.90" width="43.25" height="71.54" fill="#3ccebf"/>
<rect x="1692.25" y="172.90" width="43.25" height="71.54" fill="#43c9d4"/>
<rect x="1735.00" y="172.90" width="43.25" height="71.54" fill="#00ff00"/>
<rect x="1777.75" y="172.90" width="43.25" height="71.54" fill="#43c9d4"/>
<rect x="1820.50" y="172.90" width="43.25" height="71.54" fill="#00ff00"/>
<rect x="1863.25" y="172.90" width="43.25" height="71.54" fill="#43c9d4"/>
<rect x="1906.00" y="172.90" width="86.00" height="71.54" fill="#5eafea"/>
<rect x="1991.50" y="172.90" width="43.25" height="71.54" fill="#28de80"/>
<rect x="2034.25" y="172.90" width="43.25" height="71.54" fill="#49c3ea"/>
<rect x="2077.00" y="172.90" width="43.25" height="71.54" fill="#50beff"/>
<rect x="2119.75" y="172.90" width="43.25" height="71.54" fill="#00ff00"/>
<rect x="2162.50" y="172.90" width="43.25" height="71.54" fill="#3ccebf"/>
<rect x="2205.25" y="172.90" width="42.75" height="71.54" fill="#21e46a"/>
<rect x="1222.00" y="243.44" width="43.25" height="71.54" fill="#0df42a"/>
<rect x="1264.75" y="243.44" width="43.25" height="71.54" fill="#07fa15"/>
<rect x="1307.50" y="243.44" width="43.25" height="71.54" fill="#3ccebf"/>
<rect x="1350.25" y="243.44" width="43.25" height="71.54" fill="#50beff"/>
<rect x="1393.00" y="243.44" width="43.25" height="71.54" fill="#49c3ea"/>
<rect x="1435.75" y="243.44" width="43.25" height="71.54" fill="#00ff00"/>
<rect x="1478.50" y="243.44" width="43.25" height="71.54" fill="#43c9d4"/>
<rect x="1521.25" y="243.44" width="43.25" height="71.54" fill="#63a9e3"/>
<rect x="1564.00" y="243.44" width="43.25" height="71.54" fill="#07fa15"/>
<rect x="1606.75" y="243.44" width="43.25" height="71.54" fill="#1be955"/>
<rect x="1649.50" y="243.44" width="43.25" height="71.54" fill="#8486b3"/>
<rect x="1692.25" y="243.44" width="43.25" height="71.54" fill="#59b4f1"/>
<rect x="1735.00" y="243.44" width="43.25" height="71.54" fill="#1be955"/>
<rect x="1777.75" y="243.44" width="43.25" height="71.54" fill="#7695c8"/>
<rect x="1820.50" y="243.44" width="43.25" height="71.54" fill="#0df42a"/>
<rect x="1863.25" y="243.44" width="43.25" height="71.54" fill="#59b4f1"/>
<rect x="1906.00" y="243.44" width="43.25" height="71.54" fill="#8d7ba5"/>
<rect x="1948.75" y="243.44" width="43.25" height="71.54" fill="#59b4f1"/>
<rect x="1991.50" y="243.44" width="43.25" height="71.54" fill="#43c9d4"/>
<rect x="2034.25" y="243.44" width="43.25" height="71.54" fill="#63a9e3"/>
<rect x="2077.00" y="243.44" width="43.25" height="71.54" fill="#68a4dd"/>
<rect x="2119.75" y="243.44" width="43.25" height="71.54" fill="#00ff00"/>
<rect x="2162.50" y="243.44" width="43.25" height="71.54" fill="#68a4dd"/>
<rect x="2205.25" y="243.44" width="42.75" height="71.54" fill="#35d4aa"/>
<rect x="1222.00" y="313.98" width="43.25" height="71.54" fill="#7695c8"/>
<rect x="1264.75" y="313.98" width="43.25" height="71.54" fill="#49c3ea"/>
<rect x="1307.50" y="313.98" width="43.25" height="71.54" fill="#aa5c7c"/>
<rect x="1350.25" y="313.98" width="43.25" height="71.54" fill="#a56283"/>
<rect x="1393.00" y="313.98" width="43.25" height="71.54" fill="#af5775"/>
<rect x="1435.75" y="313.98" width="43.25" height="71.54" fill="#7695c8"/>
<rect x="1478.50" y="313.98" width="43.25" height="71.54" fill="#9c6c91"/>
<rect x="1521.25" y="313.98" width="43.25" height="71.54" fill="#c63e53"/>
<rect x="1564.00" y="313.98" width="43.25" height="71.54" fill="#7695c8"/>
<rect x="1606.75" y="313.98" width="43.25" height="71.54" fill="#8980ac"/>
<rect x="1649.50" y="313.98" width="43.25" height="71.54" fill="#977198"/>
<rect x="1692.25" y="313.98" width="43.25" height="71.54" fill="#a56283"/>
<rect x="1735.00" y="313.98" width="43.25" height="71.54" fill="#8d7ba5"/>
<rect x="1777.75" y="313.98" width="43.25" height="71.54" fill="#ff0000"/>
<rect x="1820.50" y="313.98" width="43.25" height="71.54" fill="#b3526e"/>
<rect x="1863.25" y="313.98" width="43.25" height="71.54" fill="#ff0000"/>
<rect x="1906.00" y="313.98" width="43.25" height="71.54" fill="#a56283"/>
<rect x="1948.75" y="313.98" width="86.00" height="71.54" fill="#af5775"/>
<rect x="2034.25" y="313.98" width="86.00" height="71.54" fill="#b3526e"/>
<rect x="2119.75" y="313.98" width="43.25" height="71.54" fill="#977198"/>
<rect x="2162.50" y="313.98" width="43.25" height="71.54" fill="#d42e3e"/>
<rect x="2205.25" y="313.98" width="42.75" height="71.54" fill="#bd4860"/>
<rect x="1222.00" y="384.52" width="43.25" height="71.54" fill="#0df42a"/>
<rect x="1264.75" y="384.52" width="43.25" height="71.54" fill="#1be955"/>
<rect x="1307.50" y="384.52" width="43.25" height="71.54" fill="#43c9d4"/>
<rect x="1350.25" y="384.52" width="43.25" height="71.54" fill="#2fd995"/>
<rect x="1393.00" y="384.52" width="43.25" height="71.54" fill="#50beff"/>
<rect x="1435.75" y="384.52" width="43.25" height="71.54" fill="#0df42a"/>
<rect x="1478.50" y="384.52" width="43.25" height="71.54" fill="#49c3ea"/>
<rect x="1521.25" y="384.52" width="43.25" height="71.54" fill="#63a9e3"/>
<rect x="1564.00" y="384.52" width="43.25" height="71.54" fill="#0df42a"/>
<rect x="1606.75" y="384.52" width="43.25" height="71.54" fill="#21e46a"/>
<rect x="1649.50" y="384.52" width="43.25" height="71.54" fill="#5eafea"/>
<rect x="1692.25" y="384.52" width="43.25" height="71.54" fill="#63a9e3"/>
<rect x="1735.00" y="384.52" width="43.25" height="71.54" fill="#1be955"/>
<rect x="1777.75" y="384.52" width="43.25" height="71.54" fill="#8486b3"/>
<rect x="1820.50" y="384.52" width="43.25" height="71.54" fill="#1be955"/>
<rect x="1863.25" y="384.52" width="43.25" height="71.54" fill="#59b4f1"/>
<rect x="1906.00" y="384.52" width="43.25" height="71.54" fill="#8980ac"/>
<rect x="1948.75" y="384.52" width="43.25" height="71.54" fill="#8486b3"/>
<rect x="1991.50" y="384.52" width="43.25" height="71.54" fill="#43c9d4"/>
<rect x="2034.25" y="384.52" width="43.25" height="71.54" fill="#63a9e3"/>
<rect x="2077.00" y="384.52" width="43.25" height="71.54" fill="#68a4dd"/>
<rect x="2119.75" y="384.52" width="43.25" height="71.54" fill="#28de80"/>
<rect x="2162.50" y="384.52" width="43.25" height="71.54" fill="#6c9fd6"/>
<rect x="2205.25" y="384.52" width="42.75" height="71.54" fill="#50beff"/>
<rect x="1222.00" y="455.07" width="43.25" height="71.54" fill="#21e46a"/>
<rect x="1264.75" y="455.07" width="43.25" height="71.54" fill="#1be955"/>
<rect x="1307.50" y="455.07" width="43.25" height="71.54" fill="#21e46a"/>
<rect x="1350.25" y="455.07" width="43.25" height="71.54" fill="#3ccebf"/>
<rect x="1393.00" y="455.07" width="43.25" height="71.54" fill="#35d4aa"/>
<rect x="1435.75" y="455.07" width="43.25" height="71.54" fill="#1be955"/>
<rect x="1478.50" y="455.07" width="43.25" height="71.54" fill="#2fd995"/>
<rect x="1521.25" y="455.07" width="43.25" height="71.54" fill="#63a9e3"/>
<rect x="1564.00" y="455.07" width="43.25" height="71.54" fill="#28de80"/>
<rect x="1606.75" y="455.07" width="43.25" height="71.54" fill="#21e46a"/>
<rect x="1649.50" y="455.07" width="43.25" height="71.54" fill="#50beff"/>
<rect x="1692.25" y="455.07" width="43.25" height="71.54" fill="#55b9f8"/>
<rect x="1735.00" y="455.07" width="43.25" height="71.54" fill="#28de80"/>
<rect x="1777.75" y="455.07" width="43.25" height="71.54" fill="#719acf"/>
<rect x="1820.50" y="455.07" width="43.25" height="71.54" fill="#21e46a"/>
<rect x="1863.25" y="455.07" width="43.25" height="71.54" fill="#7695c8"/>
<rect x="1906.00" y="455.07" width="43.25" height="71.54" fill="#59b4f1"/>
<rect x="1948.75" y="455.07" width="43.25" height="71.54" fill="#55b9f8"/>
<rect x="1991.50" y="455.07" width="43.25" height="71.54" fill="#49c3ea"/>
<rect x="2034.25" y="455.07" width="43.25" height="71.54" fill="#6c9fd6"/>
<rect x="2077.00" y="455.07" width="43.25" height="71.54" fill="#5eafea"/>
<rect x="2119.75" y="455.07" width="43.25" height="71.54" fill="#1be955"/>
<rect x="2162.50" y="455.07" width="43.25" height="71.54" fill="#59b4f1"/>
<rect x="2205.25" y="455.07" width="42.75" height="71.54" fill="#49c3ea"/>
<rect x="1222.00" y="525.61" width="43.25" height="71.54" fill="#21e46a"/>
<rect x="1264.75" y="525.61" width="43.25" height="71.54" fill="#0df42a"/>
<rect x="1307.50" y="525.61" width="43.25" height="71.54" fill="#50beff"/>
<rect x="1350.25" y="525.61" width="43.25" height="71.54" fill="#43c9d4"/>
<rect x="1393.00" y="525.61" width="43.25" height="71.54" fill="#49c3ea"/>
<rect x="1435.75" y="525.61" width="43.25" height="71.54" fill="#1be955"/>
<rect x="1478.50" y="525.61" width="43.25" height="71.54" fill="#3ccebf"/>
<rect x="1521.25" y="525.61" width="43.25" height="71.54" fill="#59b4f1"/>
<rect x="1564.00" y="525.61" width="86.00" height="71.54" fill="#35d4aa"/>
<rect x="1649.50" y="525.61" width="43.25" height="71.54" fill="#7b90c1"/>
<rect x="1692.25" y="525.61" width="43.25" height="71.54" fill="#5eafea"/>
<rect x="1735.00" y="525.61" width="43.25" height="71.54" fill="#28de80"/>
<rect x="1777.75" y="525.61" width="43.25" height="71.54" fill="#49c3ea"/>
<rect x="1820.50" y="525.61" width="43.25" height="71.54" fill="#28de80"/>
<rect x="1863.25" y="525.61" width="43.25" height="71.54" fill="#49c3ea"/>
<rect x="1906.00" y="525.61" width="43.25" height="71.54" fill="#7b90c1"/>
<rect x="1948.75" y="525.61" width="43.25" height="71.54" fill="#5eafea"/>
<rect x="1991.50" y="525.61" width="43.25" height="71.54" fill="#719acf"/>
<rect x="2034.25" y="525.61" width="86.00" height="71.54" fill="#5eafea"/>
<rect x="2119.75" y="525.61" width="43.25" height="71.54" fill="#28de80"/>
<rect x="2162.50" y="525.61" width="43.25" height="71.54" fill="#63a9e3"/>
<rect x="2205.25" y="525.61" width="42.75" height="71.54" fill="#5eafea"/>
<rect x="1222.00" y="596.15" width="86.00" height="71.54" fill="#1be955"/>
<rect x="1307.50" y="596.15" width="43.25" height="71.54" fill="#43c9d4"/>
<rect x="1350.25" y="596.15" width="43.25" height="71.54" fill="#1be955"/>
<rect x="1393.00" y="596.15" width="43.25" height="71.54" fill="#3ccebf"/>
<rect x="1435.75" y="596.15" width="43.25" height="71.54" fill="#1be955"/>
<rect x="1478.50" y="596.15" width="43.25" height="71.54" fill="#35d4aa"/>
<rect x="1521.25" y="596.15" width="43.25" height="71.54" fill="#5eafea"/>
<rect x="1564.00" y="596.15" width="43.25" height="71.54" fill="#28de80"/>
<rect x="1606.75" y="596.15" width="43.25" height="71.54" fill="#3ccebf"/>
<rect x="1649.50" y="596.15" width="43.25" height="71.54" fill="#63a9e3"/>
<rect x="1692.25" y="596.15" width="43.25" height="71.54" fill="#50beff"/>
<rect x="1735.00" y="596.15" width="43.25" height="71.54" fill="#1be955"/>
<rect x="1777.75" y="596.15" width="43.25" height="71.54" fill="#719acf"/>
<rect x="1820.50" y="596.15" width="43.25" height="71.54" fill="#21e46a"/>
<rect x="1863.25" y="596.15" width="43.25" height="71.54" fill="#55b9f8"/>
<rect x="1906.00" y="596.15" width="43.25" height="71.54" fill="#7b90c1"/>
<rect x="1948.75" y="596.15" width="43.25" height="71.54" fill="#55b9f8"/>
<rect x="1991.50" y="596.15" width="43.25" height="71.54" fill="#49c3ea"/>
<rect x="2034.25" y="596.15" width="43.25" height="71.54" fill="#55b9f8"/>
<rect x="2077.00" y="596.15" width="43.25" height="71.54" fill="#5eafea"/>
<rect x="2119.75" y="596.15" width="43.25" height="71.54" fill="#21e46a"/>
<rect x="2162.50" y="596.15" width="43.25" height="71.54" fill="#5eafea"/>
<rect x="2205.25" y="596.15" width="42.75" height="71.54" fill="#49c3ea"/>
<rect x="1222.00" y="666.69" width="86.00" height="71.54" fill="#14ef40"/>
<rect x="1307.50" y="666.69" width="43.25" height="71.54" fill="#2fd995"/>
<rect x="1350.25" y="666.69" width="43.25" height="71.54" fill="#14ef40"/>
<rect x="1393.00" y="666.69" width="43.25" height="71.54" fill="#28de80"/>
<rect x="1435.75" y="666.69" width="43.25" height="71.54" fill="#14ef40"/>
<rect x="1478.50" y="666.69" width="43.25" height="71.54" fill="#21e46a"/>
<rect x="1521.25" y="666.69" width="43.25" height="71.54" fill="#3ccebf"/>
<rect x="1564.00" y="666.69" width="86.00" height="71.54" fill="#1be955"/>
<rect x="1649.50" y="666.69" width="43.25" height="71.54" fill="#35d4aa"/>
<rect x="1692.25" y="666.69" width="43.25" height="71.54" fill="#59b4f1"/>
<rect x="1735.00" y="666.69" width="43.25" height="71.54" fill="#14ef40"/>
<rect x="1777.75" y="666.69" width="43.25" height="71.54" fill="#55b9f8"/>
<rect x="1820.50" y="666.69" width="43.25" height="71.54" fill="#28de80"/>
<rect x="1863.25" y="666.69" width="43.25" height="71.54" fill="#35d4aa"/>
<rect x="1906.00" y="666.69" width="43.25" height="71.54" fill="#49c3ea"/>
<rect x="1948.75" y="666.69" width="43.25" height="71.54" fill="#43c9d4"/>
<rect x="1991.50" y="666.69" width="43.25" height="71.54" fill="#2fd995"/>
<rect x="2034.25" y="666.69" width="86.00" height="71.54" fill="#3ccebf"/>
<rect x="2119.75" y="666.69" width="43.25" height="71.54" fill="#1be955"/>
<rect x="2162.50" y="666.69" width="43.25" height="71.54" fill="#43c9d4"/>
<rect x="2205.25" y="666.69" width="42.75" height="71.54" fill="#35d4aa"/>
<rect x="1222.00" y="737.23" width="43.25" height="71.54" fill="#1be955"/>
<rect x="1264.75" y="737.23" width="43.25" height="71.54" fill="#28de80"/>
<rect x="1307.50" y="737.23" width="43.25" height="71.54" fill="#55b9f8"/>
<rect x="1350.25" y="737.23" width="43.25" height="71.54" fill="#28de80"/>
<rect x="1393.00" y="737.23" width="43.25" height="71.54" fill="#49c3ea"/>
<rect x="1435.75" y="737.23" width="43.25" height="71.54" fill="#21e46a"/>
<rect x="1478.50" y="737.23" width="43.25" height="71.54" fill="#14ef40"/>
<rect x="1521.25" y="737.23" width="43.25" height="71.54" fill="#5eafea"/>
<rect x="1564.00" y="737.23" width="43.25" height="71.54" fill="#21e46a"/>
<rect x="1606.75" y="737.23" width="43.25" height="71.54" fill="#14ef40"/>
<rect x="1649.50" y="737.23" width="43.25" height="71.54" fill="#49c3ea"/>
<rect x="1692.25" y="737.23" width="43.25" height="71.54" fill="#35d4aa"/>
<rect x="1735.00" y="737.23" width="43.25" height="71.54" fill="#1be955"/>
<rect x="1777.75" y="737.23" width="43.25" height="71.54" fill="#6c9fd6"/>
<rect x="1820.50" y="737.23" width="43.25" height="71.54" fill="#1be955"/>
<rect x="1863.25" y="737.23" width="43.25" height="71.54" fill="#6c9fd6"/>
<rect x="1906.00" y="737.23" width="86.00" height="71.54" fill="#719acf"/>
<rect x="1991.50" y="737.23" width="43.25" height="71.54" fill="#55b9f8"/>
<rect x="2034.25" y="737.23" width="43.25" height="71.54" fill="#59b4f1"/>
<rect x="2077.00" y="737.23" width="43.25" height="71.54" fill="#50beff"/>
<rect x="2119.75" y="737.23" width="43.25" height="71.54" fill="#1be955"/>
<rect x="2162.50" y="737.23" width="43.25" height="71.54" fill="#68a4dd"/>
<rect x="2205.25" y="737.23" width="42.75" height="71.54" fill="#63a9e3"/>
<rect x="1222.00" y="807.77" width="43.25" height="71.54" fill="#00ff00"/>
<rect x="1264.75" y="807.77" width="43.25" height="71.54" fill="#1be955"/>
<rect x="1307.50" y="807.77" width="43.25" height="71.54" fill="#0df42a"/>
<rect x="1350.25" y="807.77" width="86.00" height="71.54" fill="#00ff00"/>
<rect x="1435.75" y="807.77" width="43.25" height="71.54" fill="#1be955"/>
<rect x="1478.50" y="807.77" width="43.25" height="71.54" fill="#00ff00"/>
<rect x="1521.25" y="807.77" width="43.25" height="71.54" fill="#1be955"/>
<rect x="1564.00" y="807.77" width="86.00" height="71.54" fill="#00ff00"/>
<rect x="1649.50" y="807.77" width="43.25" height="71.54" fill="#28de80"/>
<rect x="1692.25" y="807.77" width="86.00" height="71.54" fill="#00ff00"/>
<rect x="1777.75" y="807.77" width="43.25" height="71.54" fill="#14ef40"/>
<rect x="1820.50" y="807.77" width="43.25" height="71.54" fill="#07fa15"/>
<rect x="1863.25" y="807.77" width="43.25" height="71.54" fill="#1be955"/>
<rect x="1906.00" y="807.77" width="43.25" height="71.54" fill="#14ef40"/>
<rect x="1948.75" y="807.77" width="43.25" height="71.54" fill="#2fd995"/>
<rect x="1991.50" y="807.77" width="43.25" height="71.54" fill="#21e46a"/>
<rect x="2034.25" y="807.77" width="43.25" height="71.54" fill="#1be955"/>
<rect x="2077.00" y="807.77" width="43.25" height="71.54" fill="#07fa15"/>
<rect x="2119.75" y="807.77" width="43.25" height="71.54" fill="#00ff00"/>
<rect x="2162.50" y="807.77" width="43.25" height="71.54" fill="#1be955"/>
<rect x="2205.25" y="807.77" width="42.75" height="71.54" fill="#0df42a"/>
<rect x="1222.00" y="878.32" width="43.25" height="71.54" fill="#0df42a"/>
<rect x="1264.75" y="878.32" width="43.25" height="71.54" fill="#1be955"/>
<rect x="1307.50" y="878.32" width="43.25" height="71.54" fill="#2fd995"/>
<rect x="1350.25" y="878.32" width="43.25" height="71.54" fill="#1be955"/>
<rect x="1393.00" y="878.32" width="43.25" height="71.54" fill="#2fd995"/>
<rect x="1435.75" y="878.32" width="43.25" height="71.54" fill="#14ef40"/>
<rect x="1478.50" y="878.32" width="43.25" height="71.54" fill="#0df42a"/>
<rect x="1521.25" y="878.32" width="43.25" height="71.54" fill="#2fd995"/>
<rect x="1564.00" y="878.32" width="86.00" height="71.54" fill="#07fa15"/>
<rect x="1649.50" y="878.32" width="43.25" height="71.54" fill="#28de80"/>
<rect x="1692.25" y="878.32" width="86.00" height="71.54" fill="#1be955"/>
<rect x="1777.75" y="878.32" width="43.25" height="71.54" fill="#35d4aa"/>
<rect x="1820.50" y="878.32" width="43.25" height="71.54" fill="#07fa15"/>
<rect x="1863.25" y="878.32" width="43.25" height="71.54" fill="#28de80"/>
<rect x="1906.00" y="878.32" width="43.25" height="71.54" fill="#43c9d4"/>
<rect x="1948.75" y="878.32" width="43.25" height="71.54" fill="#50beff"/>
<rect x="1991.50" y="878.32" width="43.25" height="71.54" fill="#2fd995"/>
<rect x="2034.25" y="878.32" width="86.00" height="71.54" fill="#35d4aa"/>
<rect x="2119.75" y="878.32" width="43.25" height="71.54" fill="#07fa15"/>
<rect x="2162.50" y="878.32" width="43.25" height="71.54" fill="#3ccebf"/>
<rect x="2205.25" y="878.32" width="42.75" height="71.54" fill="#35d4aa"/>
<rect x="1222.00" y="948.86" width="86.00" height="71.54" fill="#49c3ea"/>
<rect x="1307.50" y="948.86" width="43.25" height="71.54" fill="#28de80"/>
<rect x="1350.25" y="948.86" width="43.25" height="71.54" fill="#63a9e3"/>
<rect x="1393.00" y="948.86" width="43.25" height="71.54" fill="#59b4f1"/>
<rect x="1435.75" y="948.86" width="43.25" height="71.54" fill="#49c3ea"/>
<rect x="1478.50" y="948.86" width="43.25" height="71.54" fill="#28de80"/>
<rect x="1521.25" y="948.86" width="43.25" height="71.54" fill="#68a4dd"/>
<rect x="1564.00" y="948.86" width="43.25" height="71.54" fill="#28de80"/>
<rect x="1606.75" y="948.86" width="43.25" height="71.54" fill="#3ccebf"/>
<rect x="1649.50" y="948.86" width="43.25" height="71.54" fill="#59b4f1"/>
<rect x="1692.25" y="948.86" width="43.25" height="71.54" fill="#9c6c91"/>
<rect x="1735.00" y="948.86" width="43.25" height="71.54" fill="#2fd995"/>
<rect x="1777.75" y="948.86" width="43.25" height="71.54" fill="#5eafea"/>
<rect x="1820.50" y="948.86" width="43.25" height="71.54" fill="#28de80"/>
<rect x="1863.25" y="948.86" width="43.25" height="71.54" fill="#5eafea"/>
<rect x="1906.00" y="948.86" width="43.25" height="71.54" fill="#92769f"/>
<rect x="1948.75" y="948.86" width="43.25" height="71.54" fill="#7f8bba"/>
<rect x="1991.50" y="948.86" width="86.00" height="71.54" fill="#68a4dd"/>
<rect x="2077.00" y="948.86" width="43.25" height="71.54" fill="#719acf"/>
<rect x="2119.75" y="948.86" width="43.25" height="71.54" fill="#21e46a"/>
<rect x="2162.50" y="948.86" width="43.25" height="71.54" fill="#719acf"/>
<rect x="2205.25" y="948.86" width="42.75" height="71.54" fill="#5eafea"/>
</g>
<rect x="1221.0" y="172.40" width="1028.0" height="4.62" fill="#fff"/>
<rect x="1221.0" y="240.32" width="1028.0" height="7.24" fill="#fff"/>
<rect x="1221.0" y="310.86" width="1028.0" height="7.24" fill="#fff"/>
<rect x="1221.0" y="381.40" width="1028.0" height="7.24" fill="#fff"/>
<rect x="1221.0" y="451.95" width="1028.0" height="7.24" fill="#fff"/>
<rect x="1221.0" y="522.49" width="1028.0" height="7.24" fill="#fff"/>
<rect x="1221.0" y="593.03" width="1028.0" height="7.24" fill="#fff"/>
<rect x="1221.0" y="663.57" width="1028.0" height="7.24" fill="#fff"/>
<rect x="1221.0" y="734.11" width="1028.0" height="7.24" fill="#fff"/>
<rect x="1221.0" y="804.65" width="1028.0" height="7.24" fill="#fff"/>
<rect x="1221.0" y="875.20" width="1028.0" height="7.24" fill="#fff"/>
<rect x="1221.0" y="945.74" width="1028.0" height="7.24" fill="#fff"/>
<rect x="1221.0" y="1016.28" width="1028.0" height="4.62" fill="#fff"/>
<rect x="1222.1" y="173.5" width="1025.1" height="846.6" fill="none" stroke="#0a0508" stroke-opacity="0.3" stroke-width="2.6"/>
<rect x="1216.0" y="207.37" width="5.6" height="2.4" fill="#111"/>
<text class="y" x="1211.7" y="217.5">20</text>
<rect x="1216.0" y="277.91" width="5.6" height="2.4" fill="#111"/>
<text class="y" x="1211.7" y="288.0">19</text>
<rect x="1216.0" y="348.45" width="5.6" height="2.4" fill="#111"/>
<text class="y" x="1211.7" y="358.6">15</text>
<rect x="1216.0" y="419.00" width="5.6" height="2.4" fill="#111"/>
<text class="y" x="1211.7" y="429.1">14</text>
<rect x="1216.0" y="489.54" width="5.6" height="2.4" fill="#111"/>
<text class="y" x="1211.7" y="499.6">10</text>
<rect x="1216.0" y="560.08" width="5.6" height="2.4" fill="#111"/>
<text class="y" x="1211.7" y="570.2">9</text>
<rect x="1216.0" y="630.62" width="5.6" height="2.4" fill="#111"/>
<text class="y" x="1211.7" y="640.7">8</text>
<rect x="1216.0" y="701.16" width="5.6" height="2.4" fill="#111"/>
<text class="y" x="1211.7" y="711.3">7</text>
<rect x="1216.0" y="771.70" width="5.6" height="2.4" fill="#111"/>
<text class="y" x="1211.7" y="781.8">6</text>
<rect x="1216.0" y="842.25" width="5.6" height="2.4" fill="#111"/>
<text class="y" x="1211.7" y="852.3">5</text>
<rect x="1216.0" y="912.79" width="5.6" height="2.4" fill="#111"/>
<text class="y" x="1211.7" y="922.9">4</text>
<rect x="1216.0" y="983.33" width="5.6" height="2.4" fill="#111"/>
<text class="y" x="1211.7" y="993.4">3</text>
<rect x="1241.58" y="1020.2" width="2.8" height="5.5" fill="#3a3a3a"/>
<rect x="1284.33" y="1020.2" width="2.8" height="8.5" fill="#3a3a3a"/>
<text class="x" x="1286.6" y="1058">2</text>
<rect x="1327.08" y="1020.2" width="2.8" height="5.5" fill="#3a3a3a"/>
<rect x="1369.83" y="1020.2" width="2.8" height="8.5" fill="#3a3a3a"/>
<text class="x" x="1372.1" y="1058">4</text>
<rect x="1412.58" y="1020.2" width="2.8" height="5.5" fill="#3a3a3a"/>
<rect x="1455.33" y="1020.2" width="2.8" height="8.5" fill="#3a3a3a"/>
<text class="x" x="1457.6" y="1058">6</text>
<rect x="1498.08" y="1020.2" width="2.8" height="5.5" fill="#3a3a3a"/>
<rect x="1540.83" y="1020.2" width="2.8" height="8.5" fill="#3a3a3a"/>
<text class="x" x="1543.1" y="1058">8</text>
<rect x="1583.58" y="1020.2" width="2.8" height="5.5" fill="#3a3a3a"/>
<rect x="1626.33" y="1020.2" width="2.8" height="8.5" fill="#3a3a3a"/>
<text class="x" x="1628.6" y="1058">10</text>
<rect x="1669.08" y="1020.2" width="2.8" height="5.5" fill="#3a3a3a"/>
<rect x="1711.83" y="1020.2" width="2.8" height="8.5" fill="#3a3a3a"/>
<text class="x" x="1714.1" y="1058">12</text>
<rect x="1754.58" y="1020.2" width="2.8" height="5.5" fill="#3a3a3a"/>
<rect x="1797.33" y="1020.2" width="2.8" height="8.5" fill="#3a3a3a"/>
<text class="x" x="1799.6" y="1058">14</text>
<rect x="1840.08" y="1020.2" width="2.8" height="5.5" fill="#3a3a3a"/>
<rect x="1882.83" y="1020.2" width="2.8" height="8.5" fill="#3a3a3a"/>
<text class="x" x="1885.1" y="1058">16</text>
<rect x="1925.58" y="1020.2" width="2.8" height="5.5" fill="#3a3a3a"/>
<rect x="1968.33" y="1020.2" width="2.8" height="8.5" fill="#3a3a3a"/>
<text class="x" x="1970.6" y="1058">18</text>
<rect x="2011.08" y="1020.2" width="2.8" height="5.5" fill="#3a3a3a"/>
<rect x="2053.82" y="1020.2" width="2.8" height="8.5" fill="#3a3a3a"/>
<text class="x" x="2056.1" y="1058">20</text>
<rect x="2096.57" y="1020.2" width="2.8" height="5.5" fill="#3a3a3a"/>
<rect x="2139.32" y="1020.2" width="2.8" height="8.5" fill="#3a3a3a"/>
<text class="x" x="2141.6" y="1058">22</text>
<rect x="2182.07" y="1020.2" width="2.8" height="5.5" fill="#3a3a3a"/>
<rect x="2224.82" y="1020.2" width="2.8" height="8.5" fill="#3a3a3a"/>
<text class="x" x="2227.1" y="1058">24</text>
<text class="h" x="1721.6" y="1096.7" style="font-size:42.3px">Time/h</text>
<text class="h" x="1717.4" y="1147.4" style="font-size:39px;letter-spacing:3.4px"><tspan dy="-2.3" style="font-size:35.5px">(</tspan><tspan dy="2.3">b</tspan><tspan dy="-2.3" style="font-size:35.5px">)</tspan></text>
<text class="h" transform="translate(1176.6,596) rotate(-90)">Load bus</text>
</svg></body></html>
